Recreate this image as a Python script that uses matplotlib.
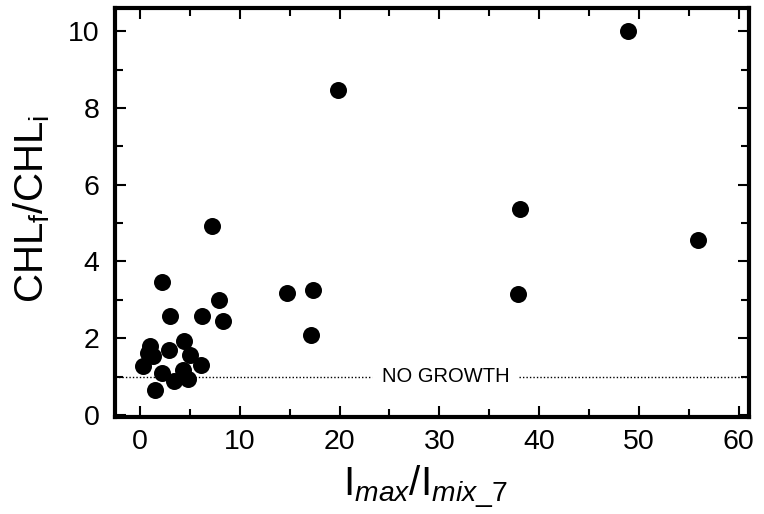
import matplotlib
matplotlib.use("Agg")
import matplotlib.pyplot as plt
from matplotlib.ticker import MultipleLocator

plt.rcParams['font.family'] = ['Liberation Sans', 'DejaVu Sans']
plt.rcParams['mathtext.fontset'] = 'custom'
plt.rcParams['mathtext.rm'] = 'Liberation Sans'
plt.rcParams['mathtext.it'] = 'Liberation Sans:italic'

# Data
ratio_light = [48.9, 19.8, 38.1, 55.9, 37.9, 7.2, 14.7, 17.3, 17.1,
               2.2, 3.0, 6.2, 7.9, 8.3,
               1.0, 0.8, 1.3, 0.3, 2.9, 4.4, 5.0, 6.1,
               2.2, 4.3, 3.4, 4.8, 1.5]
chl_ratio = [10.01, 8.48, 5.37, 4.57, 3.15, 4.93, 3.17, 3.26, 2.09,
             3.46, 2.57, 2.57, 3.00, 2.44,
             1.80, 1.62, 1.53, 1.27, 1.70, 1.92, 1.55, 1.29,
             1.10, 1.16, 0.88, 0.94, 0.64]
no_growth_level = 1.0
no_growth_label = "NO GROWTH"
x_ticks = [0, 10, 20, 30, 40, 50, 60]
y_ticks = [0, 2, 4, 6, 8, 10]

fig = plt.figure(figsize=(7.64, 5.14), dpi=100)
ax = fig.add_axes([0.1505, 0.189, 0.8295, 0.795])

ax.scatter(ratio_light, chl_ratio, s=150, color='black', zorder=3, linewidths=0)

xmin, xmax = -2.5, 61
ax.plot([xmin, 23.3], [no_growth_level, no_growth_level], linestyle=(0, (1, 1.5)),
        color='black', linewidth=1.0)
ax.plot([38.0, xmax], [no_growth_level, no_growth_level], linestyle=(0, (1, 1.5)),
        color='black', linewidth=1.0)
ax.text(30.65, no_growth_level, no_growth_label, ha='center', va='center', fontsize=14.5)

ax.set_xlim(xmin, xmax)
ax.set_ylim(-0.05, 10.6)
ax.set_xticks(x_ticks)
ax.set_yticks(y_ticks)
ax.xaxis.set_minor_locator(MultipleLocator(5))
ax.yaxis.set_minor_locator(MultipleLocator(1))
ax.tick_params(which='both', direction='in', top=True, right=True, labelsize=20.5, width=1.5)
ax.tick_params(which='major', length=8)
ax.tick_params(axis='y', which='major', pad=11)
ax.tick_params(axis='x', which='major', pad=9)
ax.tick_params(which='minor', length=6)
for sp in ax.spines.values():
    sp.set_linewidth(3)

ax.set_xlabel(r'I$_{\mathit{max}}$/I$_{\mathit{mix\_7}}$', fontsize=29)
ax.xaxis.set_label_coords(0.49, -0.115)
ax.set_ylabel(r'CHL$_{\mathrm{f}}$/CHL$_{\mathrm{i}}$', fontsize=29)
ax.yaxis.set_label_coords(-0.100, 0.51)

fig.savefig('out.png', dpi=100)
